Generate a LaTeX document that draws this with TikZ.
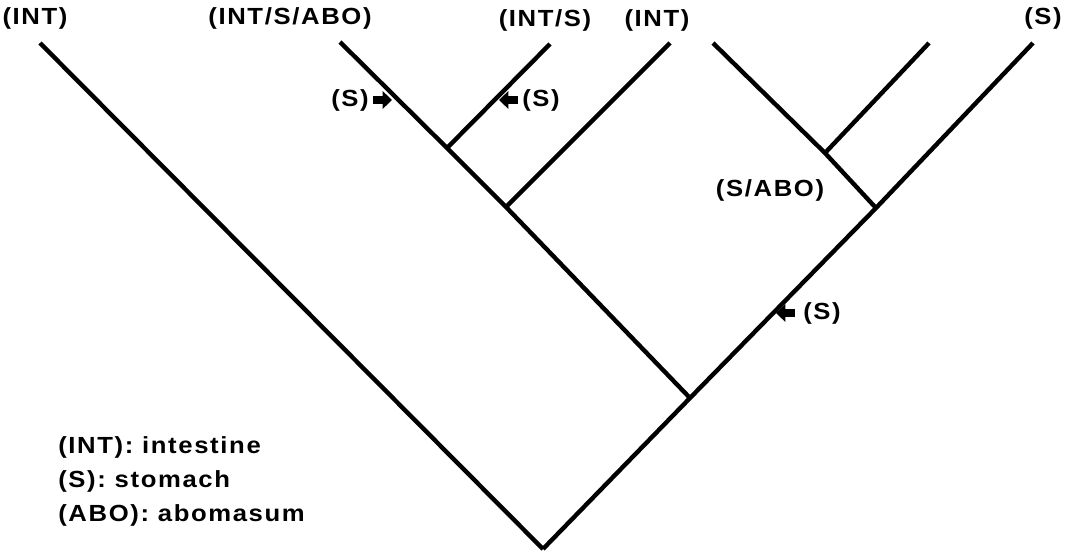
\documentclass[tikz,border=0pt]{standalone}
\usepackage{fontspec}
\newfontfamily\treefont{Liberation Sans}[FakeStretch=1.1,LetterSpace=7]
\usetikzlibrary{arrows.meta,positioning}
\tikzset{
	branch/.style={line width=3.3pt, line join=miter},
	tag/.style={font=\treefont\bfseries\fontsize{17.5}{20}\selectfont, inner sep=0pt},
	gain/.style={-{Triangle[length=7pt,width=13pt]}, line width=5.5pt}
}

\begin{document}
\begin{tikzpicture}[x=0.75pt,y=-0.75pt]
	\useasboundingbox (0,0) rectangle (1072,553);
	% branch points
	\coordinate (root) at (543,549);
	\coordinate (e) at (690,398);
	\coordinate (b) at (506,207);
	\coordinate (a) at (447,148);
	\coordinate (d) at (876,208);
	\coordinate (c) at (825,153);
	% leaf tips
	\coordinate (t1) at (40,43);
	\coordinate (t2) at (340,42);
	\coordinate (t3) at (550,44);
	\coordinate (t4) at (670,43);
	\coordinate (t5) at (713,43);
	\coordinate (t6) at (929,43);
	\coordinate (t7) at (1033,43);
	% tree
	\draw[branch] (root)--(t1);
	\draw[branch] (root)--(e)--(d)--(t7);
	\draw[branch] (e)--(b)--(a)--(t2);
	\draw[branch] (a)--(t3);
	\draw[branch] (b)--(t4);
	\draw[branch] (d)--(c)--(t5);
	\draw[branch] (c)--(t6);
	% leaf labels
	\node[tag] (l1) at (35,18) {(INT)};
	\node[tag] (l2) at (290,18) {(INT/S/ABO)};
	\node[tag] (l3) at (545,20) {(INT/S)};
	\node[tag] (l4) at (657,20) {(INT)};
	\node[tag] (l7) at (1043,18) {(S)};
	% gains along branches
	\node[tag] (s1) at (350,100) {(S)};
	\draw[gain] (373,100) -- (392,100);
	\node[tag] (s2) at (541,100) {(S)};
	\draw[gain] (518,100) -- (499,100);
	\node[tag] (sabo) at (770,190) {(S/ABO)};
	\node[tag] (s3) at (822,313) {(S)};
	\draw[gain] (795,313) -- (776,313);
	% key
	\node[tag, anchor=west] (k1) at (58,447) {(INT): intestine};
	\node[tag, anchor=west] (k2) at (58,481) {(S): stomach};
	\node[tag, anchor=west] (k3) at (58,515) {(ABO): abomasum};
\end{tikzpicture}
\end{document}
